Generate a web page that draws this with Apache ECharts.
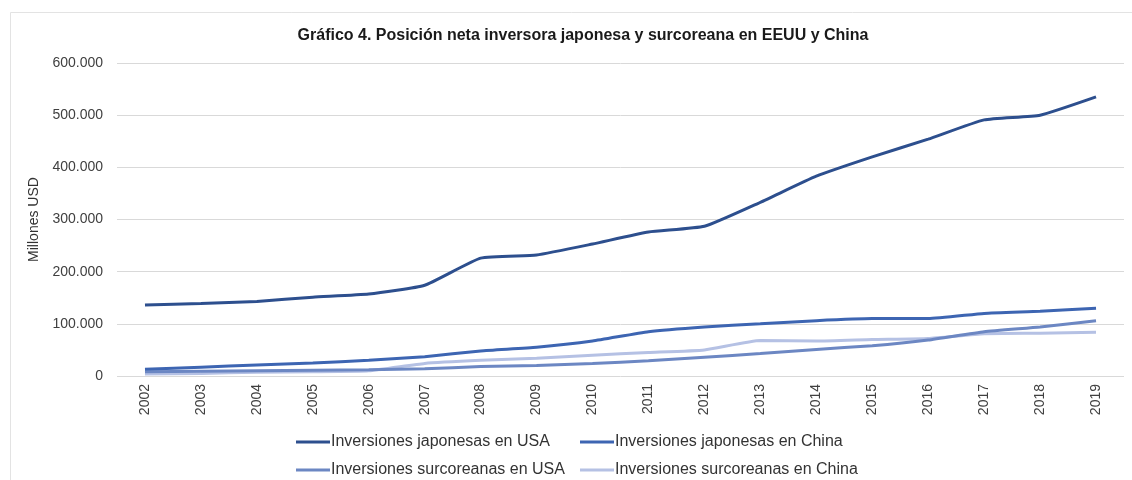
<!DOCTYPE html>
<html>
<head>
<meta charset="utf-8">
<script src="https://cdn.jsdelivr.net/npm/echarts@6/dist/echarts.min.js"></script>
<style>
  html, body { margin: 0; padding: 0; background: #ffffff; }
  #chart { width: 1132px; height: 480px; }
</style>
</head>
<body>
<div id="chart"></div>
<script>
const years = ['2002', '2003', '2004', '2005', '2006', '2007', '2008', '2009', '2010',
  '2011', '2012', '2013', '2014', '2015', '2016', '2017', '2018', '2019']

const japonUSA = [136000, 139000, 143000, 151000, 157000, 174000, 226000, 232000, 253000,
  276000, 287000, 333000, 383000, 420000, 454000, 491000, 500000, 535000]
const japonChina = [13000, 17000, 21000, 25000, 30000, 37000, 48000, 55000, 67000,
  85000, 94000, 100000, 106000, 110000, 110000, 120000, 124000, 130000]
const coreaUSA = [8000, 9000, 10000, 11000, 12000, 14000, 18000, 20000, 24000,
  29000, 36000, 43000, 51000, 58000, 69000, 85000, 94000, 106000]
const coreaChina = [4000, 5000, 7000, 8000, 10000, 24000, 30000, 34000, 40000,
  45000, 50000, 68000, 67000, 70000, 72000, 81000, 82000, 84000]

const seriesNames = [
  'Inversiones japonesas en USA',
  'Inversiones japonesas en China',
  'Inversiones surcoreanas en USA',
  'Inversiones surcoreanas en China',
]
const seriesColors = ['#2d4f8e', '#3d65b2', '#6c87c3', '#b5c1e4']

const font = 'Liberation Sans, Arial, sans-serif'

const chart = echarts.init(document.getElementById('chart'))

// 千位分隔用点号，与原图一致
const formatTick = (value) => value === 0 ? '0' : value.toLocaleString('de-DE')

const legendAt = (name, left, top) => ({
  data: [name],
  left,
  top,
  icon: 'rect',
  itemWidth: 34,
  itemHeight: 3,
  padding: 0,
  textStyle: { color: '#333333', fontSize: 16, fontFamily: font, padding: [0, 0, 0, -4] },
})

chart.setOption({
  animation: false,
  textStyle: { fontFamily: font },
  graphic: [
    {
      type: 'rect',
      shape: { x: 10.5, y: 12.5, width: 1200, height: 600 },
      style: { fill: 'none', stroke: '#e3e3e3', lineWidth: 1 },
      silent: true,
    },
  ],
  title: {
    text: 'Gráfico 4. Posición neta inversora japonesa y surcoreana en EEUU y China',
    left: 578,
    textAlign: 'center',
    top: 23,
    textStyle: { fontSize: 16, fontWeight: 'bold', color: '#1a1a1a', fontFamily: font },
  },
  legend: [
    legendAt(seriesNames[0], 296, 434),
    legendAt(seriesNames[1], 580, 434),
    legendAt(seriesNames[2], 296, 462),
    legendAt(seriesNames[3], 580, 462),
  ],
  grid: { left: 117, right: 8, top: 63, bottom: 104 },
  xAxis: {
    type: 'category',
    data: years,
    boundaryGap: true,
    axisLine: { show: false },
    axisTick: { show: false },
    axisLabel: { rotate: 90, color: '#404040', fontSize: 14, margin: 8 },
  },
  yAxis: {
    type: 'value',
    min: 0,
    max: 600000,
    interval: 100000,
    name: 'Millones USD',
    nameLocation: 'middle',
    nameGap: 69,
    nameTextStyle: { color: '#333333', fontSize: 14 },
    axisLine: { show: false },
    axisTick: { show: false },
    splitLine: { lineStyle: { color: '#d9d9d9', width: 1 } },
    axisLabel: { color: '#404040', fontSize: 14, margin: 14, formatter: formatTick },
  },
  series: [japonUSA, japonChina, coreaUSA, coreaChina].map((data, i) => ({
    name: seriesNames[i],
    type: 'line',
    data,
    symbol: 'none',
    smooth: 0.15,
    lineStyle: { width: 3, color: seriesColors[i] },
    itemStyle: { color: seriesColors[i] },
    z: 10 - i,
  })),
})
</script>
</body>
</html>
